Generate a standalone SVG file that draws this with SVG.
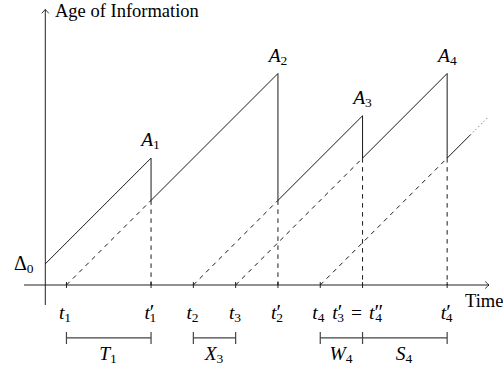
<svg xmlns="http://www.w3.org/2000/svg" width="503" height="368" viewBox="0 0 503 368">
<defs>
<style>
.ax{stroke:#222;stroke-width:1;fill:none}
.sol{stroke:#000;stroke-width:0.9;fill:none}
.dsh{stroke:#000;stroke-width:0.9;fill:none;stroke-dasharray:4.5 4.5}
.dot{stroke:#000;stroke-width:0.9;fill:none;stroke-dasharray:0.8 3}
.tk{stroke:#222;stroke-width:1;fill:none}
.bar{stroke:#444;stroke-width:1.2;fill:none}
text{font-family:'Liberation Serif','Times New Roman','DejaVu Serif',serif;fill:#000}
.txt{font-size:18.5px}
.m{font-style:italic;font-size:19.5px}
.s{font-style:normal;font-size:13.5px}
.p{font-style:normal;font-size:21px}
.n{font-style:normal}
</style>
<marker id="arr" markerUnits="userSpaceOnUse" markerWidth="10" markerHeight="10" refX="0" refY="0" viewBox="-5 -5 10 10" orient="auto">
<path d="M-3.8,-3.5 Q-1,-0.9 0,0 Q-1,0.9 -3.8,3.5" fill="none" stroke="#000" stroke-width="0.8"/>
</marker>
</defs>
<rect width="503" height="368" fill="#fff"/>

<g id="axes">
<line class="ax" x1="24" y1="285" x2="489" y2="285" marker-end="url(#arr)"/>
<line class="ax" x1="45.3" y1="305" x2="45.3" y2="9.5" marker-end="url(#arr)"/>
<text class="txt" x="55" y="17">Age of Information</text>
<text class="txt" x="465" y="306.5">Time</text>
<path class="tk" d="M66.45,282V288M151.05,282V288M193.35,282V288M235.65,282V288M277.95,282V288M320.25,282V288M362.55,282V288M447.15,282V288"/>
</g>

<g id="age-curve">
<path class="sol" d="M45.3,263.85L151.05,158.1V200.4L277.95,73.5V200.4L362.55,115.8V158.1L447.15,73.5V158.1L470.4,134.85"/>
<line class="dot" x1="470.4" y1="134.85" x2="487.3" y2="117.95"/>
</g>

<g id="connectors">
<line class="dsh" x1="66.45" y1="285" x2="151.05" y2="200.4"/>
<line class="dsh" x1="193.35" y1="285" x2="277.95" y2="200.4"/>
<line class="dsh" x1="235.65" y1="285" x2="362.55" y2="158.1"/>
<line class="dsh" x1="320.25" y1="285" x2="447.15" y2="158.1"/>
<line class="dsh" x1="151.05" y1="200.4" x2="151.05" y2="285"/>
<line class="dsh" x1="277.95" y1="200.4" x2="277.95" y2="285"/>
<line class="dsh" x1="362.55" y1="158.1" x2="362.55" y2="285"/>
<line class="dsh" x1="447.15" y1="158.1" x2="447.15" y2="285"/>
</g>

<g id="peak-labels">
<text class="m" x="150.5" y="146" text-anchor="middle">A<tspan class="s" dy="3">1</tspan></text>
<text class="m" x="278" y="61.5" text-anchor="middle">A<tspan class="s" dy="3">2</tspan></text>
<text class="m" x="362.5" y="104" text-anchor="middle">A<tspan class="s" dy="3">3</tspan></text>
<text class="m" x="447.3" y="61.5" text-anchor="middle">A<tspan class="s" dy="3">4</tspan></text>
<text class="m n" x="33.5" y="270" text-anchor="end" style="font-size:20px">Δ<tspan class="s" dy="3">0</tspan></text>
</g>

<g id="time-labels">
<text class="m" x="65" y="319" text-anchor="middle">t<tspan class="s" dy="3">1</tspan></text>
<text class="m" x="150.3" y="319" text-anchor="middle">t<tspan class="p">′</tspan><tspan class="s" dx="-5" dy="3">1</tspan></text>
<text class="m" x="192.5" y="319" text-anchor="middle">t<tspan class="s" dy="3">2</tspan></text>
<text class="m" x="235" y="319" text-anchor="middle">t<tspan class="s" dy="3">3</tspan></text>
<text class="m" x="277" y="319" text-anchor="middle">t<tspan class="p">′</tspan><tspan class="s" dx="-5" dy="3">2</tspan></text>
<text class="m" x="318.3" y="319" text-anchor="middle">t<tspan class="s" dy="3">4</tspan></text>
<text class="m" x="357.7" y="319" text-anchor="middle">t<tspan class="p">′</tspan><tspan class="s" dx="-5" dy="3">3</tspan><tspan class="n" dx="7" dy="-3">=</tspan><tspan dx="7">t</tspan><tspan class="p">″</tspan><tspan class="s" dx="-8" dy="3">4</tspan></text>
<text class="m" x="446.7" y="319" text-anchor="middle">t<tspan class="p">′</tspan><tspan class="s" dx="-5" dy="3">4</tspan></text>
</g>

<g id="intervals">
<path class="bar" d="M66.45,337.8H151.05M66.45,332V344M151.05,332V344"/>
<path class="bar" d="M193.35,337.8H235.65M193.35,332V344M235.65,332V344"/>
<path class="bar" d="M320.25,337.8H447.15M320.25,332V344M362.55,332V344M447.15,332V344"/>
<text class="m" x="108" y="360" text-anchor="middle">T<tspan class="s" dy="3">1</tspan></text>
<text class="m" x="214" y="360" text-anchor="middle">X<tspan class="s" dy="3">3</tspan></text>
<text class="m" x="341" y="360" text-anchor="middle">W<tspan class="s" dy="3">4</tspan></text>
<text class="m" x="404" y="360" text-anchor="middle">S<tspan class="s" dy="3">4</tspan></text>
</g>
</svg>
